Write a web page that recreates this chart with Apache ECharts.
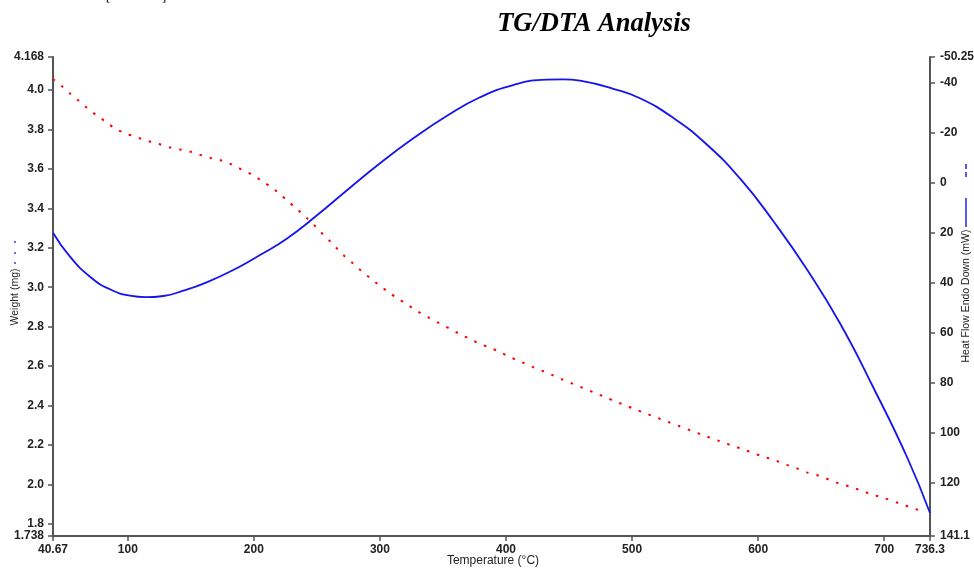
<!DOCTYPE html>
<html>
<head>
<meta charset="utf-8">
<title>TG/DTA Analysis</title>
<script src="https://cdn.jsdelivr.net/npm/echarts@6/dist/echarts.min.js"></script>
<style>
  html, body { margin: 0; padding: 0; background: #fff; }
  #chart { width: 974px; height: 568px; }
</style>
</head>
<body>
<div id="chart"></div>
<script>
// Temperature (°C) of each weight sample
const weightTemp = [40.67, 47.57, 54.39, 60.74, 67.88, 74.78, 82.47, 89.61, 97.78, 107.06,
  115.23, 124.51, 132.92, 141.96, 151.16, 159.41, 165.76, 173.69, 181.86, 190.03,
  198.52, 206.45, 213.83, 220.97, 227.07, 234.21, 240.80, 246.90, 253.01, 259.36,
  265.15, 271.5, 278.64, 284.98, 292.12, 299.5, 307.43, 315.12, 323.06, 330.2,
  338.37, 346.62, 354.79, 362.96, 371.44, 379.61, 387.86, 396.03, 404.2, 412.69,
  420.62, 429.11, 436.25, 444.42, 452.59, 460.84, 470.04, 478.53, 486.46, 494.63,
  503.11, 511.6, 520.33, 529.05, 537.22, 546.18, 554.43, 562.6, 569.98, 578.7,
  587.43, 595.92, 604.64, 612.81, 622.09, 630.26, 638.51, 648.03, 656.2, 664.37,
  673.65, 681.82, 690.55, 699.59, 711.72, 720.45, 729.41];
// Weight (mg)
const weightMg = [4.056, 4.021, 3.982, 3.948, 3.908, 3.874, 3.840, 3.806, 3.782, 3.761,
  3.743, 3.727, 3.710, 3.698, 3.685, 3.667, 3.656, 3.644, 3.624, 3.598,
  3.571, 3.539, 3.507, 3.471, 3.436, 3.397, 3.358, 3.321, 3.280, 3.240,
  3.201, 3.160, 3.121, 3.084, 3.047, 3.010, 2.972, 2.939, 2.906, 2.876,
  2.847, 2.819, 2.792, 2.764, 2.737, 2.712, 2.692, 2.668, 2.643, 2.619,
  2.597, 2.575, 2.556, 2.533, 2.511, 2.489, 2.465, 2.443, 2.421, 2.401,
  2.379, 2.358, 2.337, 2.316, 2.296, 2.274, 2.254, 2.235, 2.218, 2.198,
  2.179, 2.159, 2.139, 2.124, 2.100, 2.083, 2.061, 2.044, 2.024, 2.004,
  1.987, 1.968, 1.948, 1.931, 1.904, 1.884, 1.865];

// Temperature (°C) of each heat-flow sample
const heatTemp = [40.67, 54.15, 70.02, 85.88, 101.75, 114.44, 128.16, 144.02, 162.58, 183.68,
  204.86, 226.04, 249.84, 273.63, 300.05, 326.46, 352.95, 379.36, 405.78, 432.27,
  445.44, 458.68, 485.1, 506.27, 532.77, 559.26, 585.75, 612.25, 638.74, 665.23,
  691.73, 718.22, 736.3];
// Heat flow, endo down (mW)
const heatFlow = [19.94, 29.52, 37.51, 42.55, 45.10, 45.70, 45.22, 43.11, 39.75, 34.84,
  28.85, 22.33, 13.07, 3.08, -7.79, -17.77, -26.68, -34.15, -39.06, -41.22,
  -41.34, -40.78, -37.55, -33.75, -25.88, -15.30, -1.64, 15.46, 34.64, 56.41,
  82.17, 109.74, 131.91];

// Axis tick labels
const tempTicks = ['40.67', '100', '200', '300', '400', '500', '600', '700', '736.3'];
const weightTicks = ['1.738', '1.8', '2.0', '2.2', '2.4', '2.6', '2.8', '3.0', '3.2', '3.4', '3.6', '3.8', '4.0', '4.168'];
const heatTicks = ['-50.25', '-40', '-20', '0', '20', '40', '60', '80', '100', '120', '141.1'];

const pairs = (xs, ys) => xs.map((x, i) => [x, ys[i]]);
const tickFormatter = (labels) => (v) => {
  let best = labels[0], d = Infinity;
  for (const s of labels) {
    const dd = Math.abs(Number(s) - v);
    if (dd < d) { d = dd; best = s; }
  }
  return best;
};

const axisColor = '#555';
const sans = 'Liberation Sans, Arial, sans-serif';
const labelFont = { color: '#222', fontSize: 12, fontWeight: 'bold', fontFamily: sans };
const titleFont = { fill: '#222', fontSize: 10.5, fontFamily: sans };

const chart = echarts.init(document.getElementById('chart'), null, { renderer: 'canvas' });
chart.setOption({
  animation: false,
  backgroundColor: '#fff',
  grid: { left: 53, right: 44, top: 57, bottom: 32, containLabel: false, outerBoundsMode: 'none' },
  xAxis: {
    type: 'value',
    min: 40.67,
    max: 736.3,
    splitLine: { show: false },
    axisLine: { show: true, onZero: false, lineStyle: { color: axisColor, width: 2 } },
    axisTick: { show: true, length: 5, lineStyle: { color: axisColor, width: 1.5 }, customValues: tempTicks.map(Number) },
    axisLabel: Object.assign({ margin: 8, customValues: tempTicks.map(Number), formatter: tickFormatter(tempTicks) }, labelFont)
  },
  yAxis: [
    {
      type: 'value',
      position: 'left',
      min: 1.738,
      max: 4.168,
      splitLine: { show: false },
      axisLine: { show: true, onZero: false, lineStyle: { color: axisColor, width: 2 } },
      axisTick: { show: true, length: 5, lineStyle: { color: axisColor, width: 1.5 }, customValues: weightTicks.map(Number) },
      axisLabel: Object.assign({ margin: 9, customValues: weightTicks.map(Number), formatter: tickFormatter(weightTicks) }, labelFont)
    },
    {
      type: 'value',
      position: 'right',
      inverse: true,
      min: -50.25,
      max: 141.1,
      splitLine: { show: false },
      axisLine: { show: true, onZero: false, lineStyle: { color: axisColor, width: 2 } },
      axisTick: { show: true, length: 5, lineStyle: { color: axisColor, width: 1.5 }, customValues: heatTicks.map(Number) },
      axisLabel: Object.assign({ margin: 10, customValues: heatTicks.map(Number), formatter: tickFormatter(heatTicks) }, labelFont)
    }
  ],
  series: [
    {
      name: 'Weight',
      type: 'line',
      yAxisIndex: 0,
      data: pairs(weightTemp, weightMg),
      showSymbol: false,
      smooth: 0.3,
      lineStyle: { color: '#ff0000', width: 2, type: [2.5, 8] }
    },
    {
      name: 'Heat Flow',
      type: 'line',
      yAxisIndex: 1,
      data: pairs(heatTemp, heatFlow),
      showSymbol: false,
      smooth: 0.5,
      lineStyle: { color: '#1414f0', width: 1.8 }
    }
  ],
  graphic: [
    {
      type: 'text', x: 594, y: 24,
      style: { text: 'TG/DTA Analysis', align: 'center', verticalAlign: 'middle',
        fill: '#000', fontSize: 26.5, fontWeight: 'bold', fontStyle: 'italic', fontFamily: 'Liberation Serif, Times New Roman, serif' }
    },
    { type: 'text', x: 493, y: 561, style: { text: 'Temperature (°C)', align: 'center', verticalAlign: 'middle', fill: '#222', fontSize: 12, fontFamily: sans } },
    { type: 'text', x: 15, y: 297, rotation: Math.PI / 2, style: Object.assign({ text: 'Weight (mg)', align: 'center', verticalAlign: 'middle' }, titleFont) },
    { type: 'text', x: 966, y: 296, rotation: Math.PI / 2, style: Object.assign({ text: 'Heat Flow Endo Down (mW)', align: 'center', verticalAlign: 'middle' }, titleFont) },
    // series keys beside the axis titles
    { type: 'circle', shape: { cx: 15, cy: 242, r: 1 }, style: { fill: '#3a3ae8' } },
    { type: 'circle', shape: { cx: 15, cy: 253, r: 1 }, style: { fill: '#3a3ae8' } },
    { type: 'circle', shape: { cx: 15, cy: 263, r: 1 }, style: { fill: '#3a3ae8' } },
    { type: 'line', shape: { x1: 966, y1: 164, x2: 966, y2: 180 }, style: { stroke: '#4848f4', lineWidth: 1.8, lineDash: [5, 3] } },
    { type: 'line', shape: { x1: 966, y1: 198, x2: 966, y2: 227 }, style: { stroke: '#4848f4', lineWidth: 1.8 } },
    // bracket marks at the very top edge
    { type: 'text', x: 108, y: 3, style: { text: '[', align: 'center', verticalAlign: 'bottom', fill: '#000', fontSize: 14, fontFamily: 'Liberation Serif, serif' } },
    { type: 'text', x: 164, y: 3, style: { text: ']', align: 'center', verticalAlign: 'bottom', fill: '#000', fontSize: 14, fontFamily: 'Liberation Serif, serif' } }
  ]
});
</script>
</body>
</html>
